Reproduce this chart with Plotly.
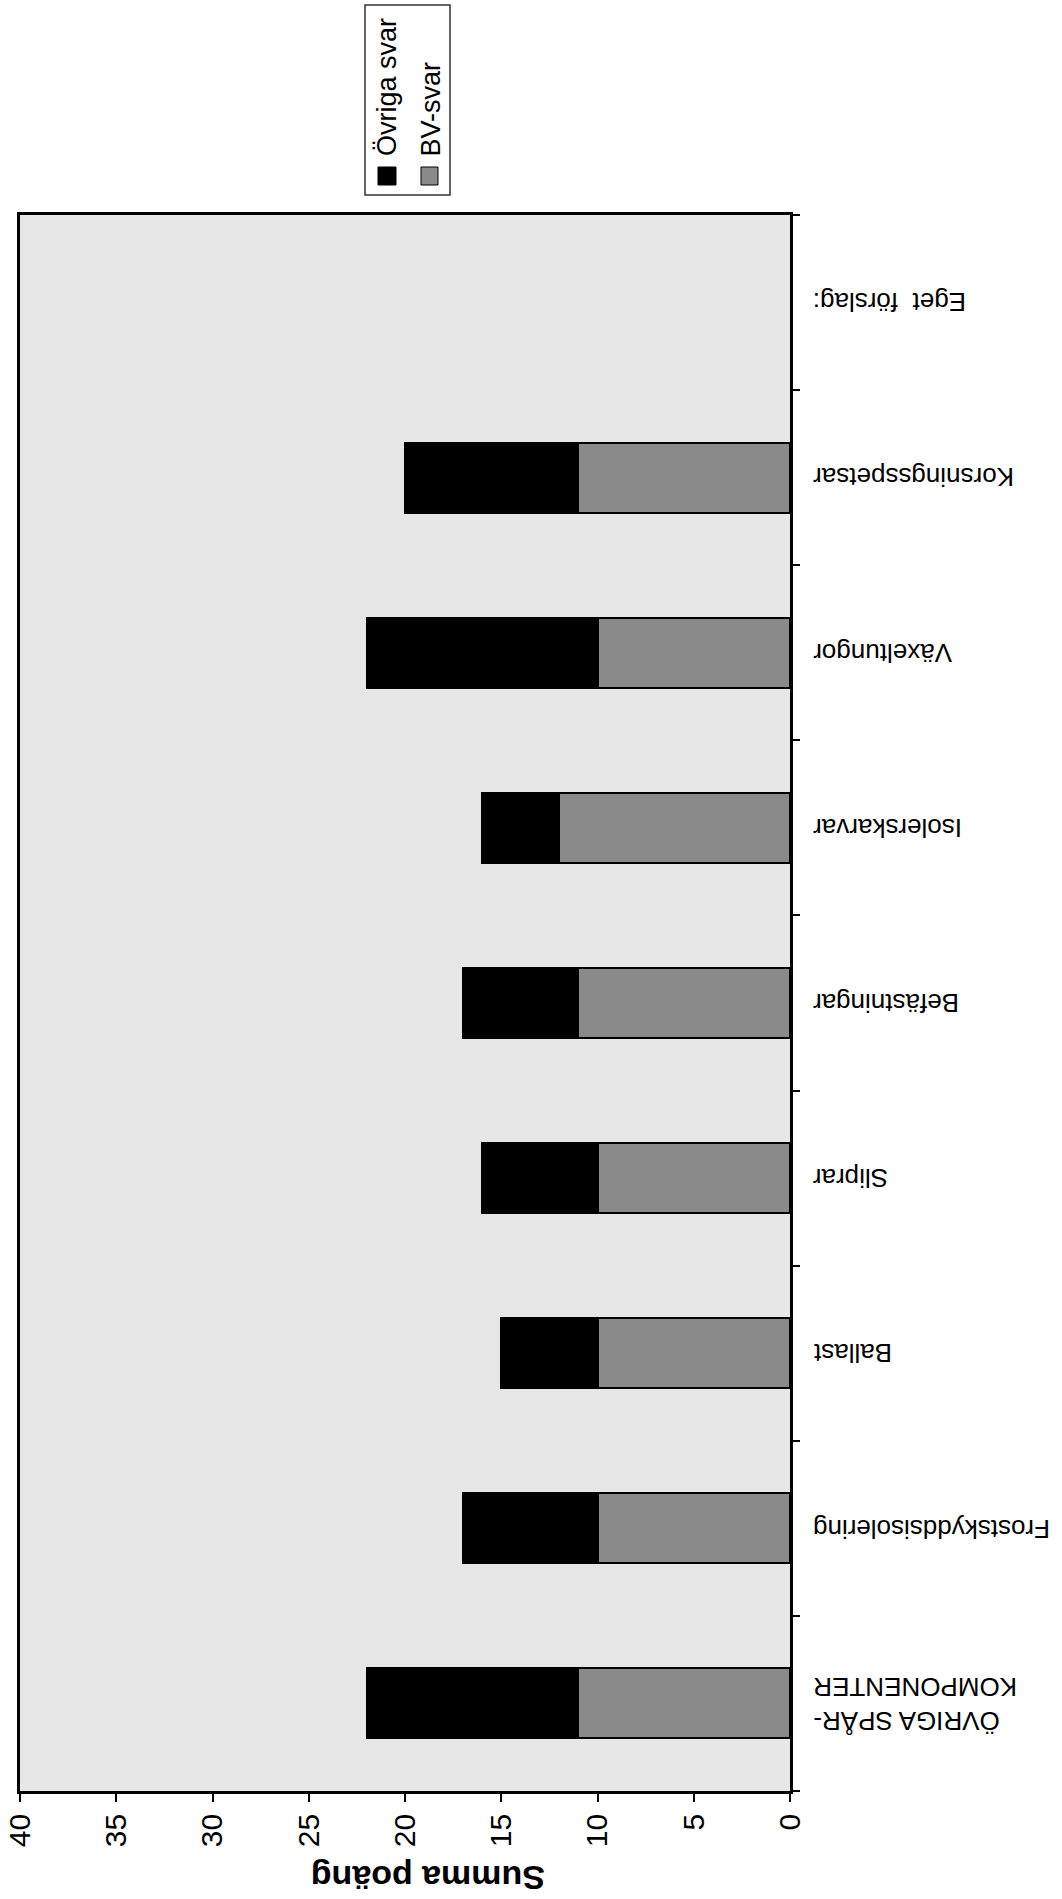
import plotly.graph_objects as go

# Components scored in the survey (first category drawn at the bottom)
categories = [
    "ÖVRIGA SPÅR-<br>KOMPONENTER",
    "Frostskyddsisolering",
    "Ballast",
    "Sliprar",
    "Befästningar",
    "Isolerskarvar",
    "Växeltungor",
    "Korsningsspetsar",
    "Eget  förslag:",
]
bv_svar = [11, 10, 10, 10, 11, 12, 10, 11, None]
ovriga_svar = [11, 7, 5, 6, 6, 4, 12, 9, None]
value_ticks = [0, 5, 10, 15, 20, 25, 30, 35, 40]
axis_title = "Summa poäng"
legend_labels = ["Övriga svar", "BV-svar"]

FONT = "Liberation Sans, Arial, sans-serif"
GREY = "#8a8a8a"
BLACK = "#000000"

W, H = 1062, 1899
L, R, T, B = 20, 790, 215, 1791  # plot area in pixels


def px_x(x):
    return (x - L) / (R - L)


def px_y(y):
    return (B - y) / (B - T)


fig = go.Figure()
fig.add_trace(go.Bar(
    y=categories, x=bv_svar, orientation="h", name=legend_labels[1],
    marker=dict(color=GREY, line=dict(color=BLACK, width=2)),
    showlegend=False,
))
fig.add_trace(go.Bar(
    y=categories, x=ovriga_svar, orientation="h", name=legend_labels[0],
    marker=dict(color=BLACK, line=dict(color=BLACK, width=2)),
    showlegend=False,
))

n = len(categories)
annotations = []
# category labels, turned upside down, to the right of the axis
for i, lab in enumerate(categories):
    annotations.append(dict(
        x=px_x(811), xref="paper", y=lab, yref="y",
        text=lab, textangle=180, xanchor="left", yanchor="middle",
        align="right", showarrow=False,
        font=dict(family=FONT, size=26, color="black"),
    ))
# value axis title
annotations.append(dict(
    x=px_x(428), xref="paper", y=px_y(1878), yref="paper",
    text="<b>" + axis_title + "</b>", textangle=180,
    xanchor="center", yanchor="middle", showarrow=False,
    font=dict(family=FONT, size=34, color="black"),
))
# legend texts (rotated)
for cx, lab in zip([387, 430], legend_labels):
    annotations.append(dict(
        x=px_x(cx), xref="paper", y=px_y(158), yref="paper",
        text=lab, textangle=-90, xanchor="center", yanchor="bottom",
        showarrow=False, font=dict(family=FONT, size=27, color="black"),
    ))

shapes = [
    # legend frame
    dict(type="rect", xref="paper", yref="paper",
         x0=px_x(365), x1=px_x(450), y0=px_y(195), y1=px_y(5),
         line=dict(color="#333333", width=1.5), fillcolor="white"),
    # legend swatches
    dict(type="rect", xref="paper", yref="paper",
         x0=px_x(378), x1=px_x(396), y0=px_y(185), y1=px_y(167),
         line=dict(color=BLACK, width=1), fillcolor=BLACK),
    dict(type="rect", xref="paper", yref="paper",
         x0=px_x(421), x1=px_x(438), y0=px_y(185), y1=px_y(167),
         line=dict(color=BLACK, width=1), fillcolor=GREY),
]

fig.update_layout(
    width=W, height=H, autosize=False,
    margin=dict(l=L, r=W - R, t=T, b=H - B, pad=0),
    barmode="stack", bargap=0.6,
    paper_bgcolor="white", plot_bgcolor="#e6e6e6",
    font=dict(family=FONT, color="black"),
    showlegend=False,
    annotations=annotations, shapes=shapes,
    xaxis=dict(
        range=[40, 0], tickvals=value_ticks, ticktext=[str(v) for v in value_ticks],
        tickangle=-90, tickfont=dict(family=FONT, size=30, color="black"),
        ticks="outside", ticklen=8, tickwidth=1.5, tickcolor="black",
        showline=True, linewidth=2.5, linecolor="black", mirror=True,
        showgrid=False, zeroline=False, automargin=False,
    ),
    yaxis=dict(
        type="category", categoryorder="array", categoryarray=categories,
        range=[-0.5, n - 0.5], side="right", tickson="boundaries",
        ticks="outside", ticklen=7, tickwidth=1.5, tickcolor="black",
        showticklabels=False, showline=True, linewidth=2.5,
        linecolor="black", mirror=True, showgrid=False, automargin=False,
    ),
    # inner halves of the crossing tick marks
    xaxis2=dict(
        overlaying="x", anchor="y", side="bottom", range=[40, 0],
        tickvals=value_ticks, ticks="inside", ticklen=9, tickwidth=1.5,
        tickcolor="black", showticklabels=False, showline=False,
        showgrid=False, zeroline=False, automargin=False,
    ),
    yaxis2=dict(
        overlaying="y", anchor="x", side="right", range=[-0.5, n - 0.5],
        tickvals=[i + 0.5 for i in range(n - 1)], ticks="inside",
        ticklen=10, tickwidth=1.5, tickcolor="black", showticklabels=False,
        showline=False, showgrid=False, zeroline=False, automargin=False,
    ),
)

fig.write_html("out.html")
